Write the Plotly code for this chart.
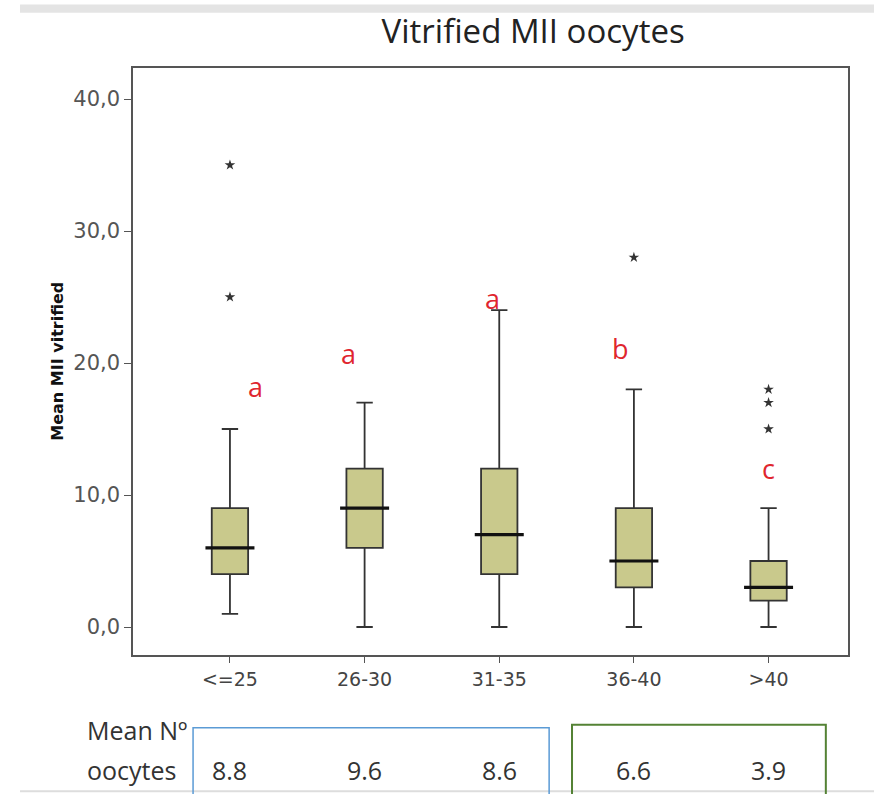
import plotly.graph_objects as go

categories = ["<=25", "26-30", "31-35", "36-40", ">40"]
lower_whisker = [1, 0, 0, 0, 0]
q1_values = [4, 6, 4, 3, 2]
medians = [6, 9, 7, 5, 3]
q3_values = [9, 12, 12, 9, 5]
upper_whisker = [15, 17, 24, 18, 9]
outlier_groups = ["<=25", "<=25", "36-40", ">40", ">40", ">40"]
outlier_values = [35, 25, 28, 18, 17, 15]
sig_letters = ["a", "a", "a", "b", "c"]
mean_oocytes = ["8.8", "9.6", "8.6", "6.6", "3.9"]
y_tick_vals = [0, 10, 20, 30, 40]
y_tick_text = ["0,0", "10,0", "20,0", "30,0", "40,0"]

# positions of significance letters (layout only)
letter_pos = [(0.19, 18.2), (0.88, 20.7), (1.95, 24.9), (2.9, 21.1), (4.0, 12.0)]

TXT = "Open Sans, Lato, sans-serif"
fig = go.Figure()
xidx = list(range(len(categories)))
fig.add_trace(go.Box(
    x=xidx, q1=q1_values, median=medians, q3=q3_values,
    lowerfence=lower_whisker, upperfence=upper_whisker,
    fillcolor="#c9c98c", line=dict(color="#333333", width=1.8),
    width=0.27, whiskerwidth=0.45, boxpoints=False, hoverinfo="skip",
))
fig.add_trace(go.Scatter(
    x=xidx, y=medians, mode="markers",
    marker=dict(symbol="line-ew", size=35, line=dict(color="#111111", width=3.2)),
    hoverinfo="skip",
))
fig.add_trace(go.Scatter(
    x=[categories.index(g) for g in outlier_groups], y=outlier_values, mode="markers",
    marker=dict(symbol="star", size=8, color="#333333", line=dict(width=0)),
    hoverinfo="skip",
))

annotations = []
for (lx, ly), t in zip(letter_pos, sig_letters):
    annotations.append(dict(x=lx, y=ly, xref="x", yref="y", text=t, showarrow=False,
                            font=dict(family=TXT, size=27, color="#e0262e")))
for i, v in enumerate(mean_oocytes):
    annotations.append(dict(x=i, y=-0.196, xref="x", yref="paper", text=v, showarrow=False,
                            yanchor="middle",
                            font=dict(family=TXT, size=25, color="#333333")))
annotations.append(dict(x=-0.067, y=-0.128, xref="paper", yref="paper", text="Mean Nº",
                        xanchor="left", yanchor="middle", showarrow=False,
                        font=dict(family=TXT, size=25, color="#333333")))
annotations.append(dict(x=-0.067, y=-0.196, xref="paper", yref="paper", text="oocytes",
                        xanchor="left", yanchor="middle", showarrow=False,
                        font=dict(family=TXT, size=25, color="#333333")))
annotations.append(dict(x=-0.106, y=0.5, xref="paper", yref="paper", text="<b>Mean MII vitrified</b>",
                        textangle=-90, xanchor="center", yanchor="middle", showarrow=False,
                        font=dict(family="DejaVu Sans, Arial, sans-serif", size=16, color="#111111")))

shapes = [
    dict(type="rect", xref="paper", yref="paper", x0=-0.158, x1=1.04, y0=1.094, y1=1.108,
         fillcolor="#e4e4e4", line=dict(width=0), layer="below"),
    dict(type="line", xref="paper", yref="paper", x0=-0.158, x1=1.04, y0=-0.232, y1=-0.232,
         line=dict(color="#dddddd", width=2)),
    dict(type="rect", xref="paper", yref="paper", x0=0.084, x1=0.582, y0=-0.124, y1=-0.26,
         line=dict(color="#5b9bd5", width=1.5)),
    dict(type="rect", xref="paper", yref="paper", x0=0.614, x1=0.969, y0=-0.119, y1=-0.26,
         line=dict(color="#548235", width=2)),
]

fig.update_layout(
    width=874, height=794,
    margin=dict(l=133, r=26, t=68, b=139),
    paper_bgcolor="white", plot_bgcolor="white",
    showlegend=False,
    title=dict(text="Vitrified MII oocytes", x=0.61, xanchor="center", y=0.96, yanchor="middle",
               font=dict(family=TXT, size=33, color="#222222")),
    xaxis=dict(range=[-0.72, 4.59], tickvals=xidx, ticktext=categories,
               showline=True, mirror=True, linecolor="#555555", linewidth=1.5,
               ticks="outside", ticklen=6, tickcolor="#555555", showgrid=False, zeroline=False,
               tickfont=dict(family="DejaVu Sans, Arial", size=19, color="#444444")),
    yaxis=dict(range=[-2.12, 42.35], tickvals=y_tick_vals, ticktext=y_tick_text,
               showline=True, mirror=True, linecolor="#555555", linewidth=1.5,
               ticks="outside", ticklen=7, tickcolor="#555555", showgrid=False, zeroline=False,
               tickfont=dict(family="DejaVu Sans, Arial", size=21, color="#555555")),
    annotations=annotations, shapes=shapes,
)

fig.write_html("out.html", config={"displayModeBar": False},
               post_script="document.body.style.margin='0';")
